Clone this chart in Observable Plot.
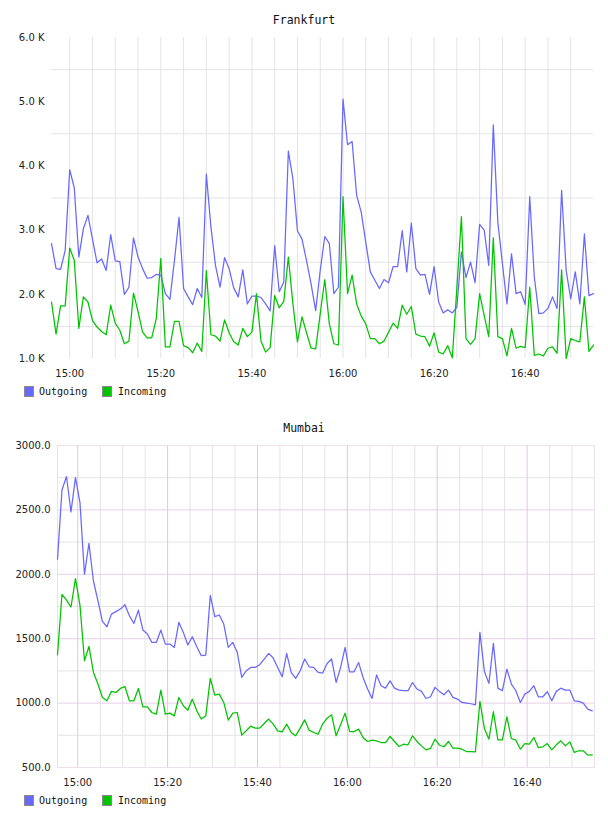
<!DOCTYPE html>
<html>
<head>
<meta charset="utf-8">
<script src="https://cdn.jsdelivr.net/npm/d3@7"></script>
<script src="https://cdn.jsdelivr.net/npm/@observablehq/plot@0.6"></script>
<style>
  html, body { margin: 0; padding: 0; background: #fff; }
  body { position: relative; width: 608px; height: 816px; overflow: hidden; }
  .title { position: absolute; left: 0; width: 608px; text-align: center;
           font: 11.5px/14px "DejaVu Sans Mono", monospace; color: #111; }
  .panel { position: absolute; left: 0; }
  .legend { position: absolute; left: 24px; width: 200px; height: 11px; font: 10px/11px "DejaVu Sans Mono", monospace; color: #111; }
  .legend .sw { position: absolute; top: 0; width: 8px; height: 9px; border: 1px solid #8a8a8a; }
  .legend .lb { position: absolute; top: 0; white-space: nowrap; }
</style>
</head>
<body>
<div class="title" style="top:13px">Frankfurt</div>
<div class="panel" id="fra" style="top:27px"></div>
<div class="legend" id="leg1" style="top:386px"></div>
<div class="title" style="top:421px">Mumbai</div>
<div class="panel" id="mum" style="top:436px"></div>
<div class="legend" id="leg2" style="top:795px"></div>
<script>
// Traffic per minute, Frankfurt (14:56 – 16:55)
const frankfurtOutgoing = [
  2790, 2400, 2390, 2680, 3940, 3660, 2580, 3020, 3230, 2860,
  2490, 2550, 2370, 2930, 2520, 2510, 2000, 2110, 2880, 2580,
  2400, 2250, 2260, 2310, 2300, 2010, 1920, 2530, 3200, 2090,
  1960, 1840, 2090, 1950, 3870, 3050, 2450, 2110, 2570, 2400,
  2100, 1960, 2380, 1850, 1970, 1970, 1950, 1850, 1740, 2760,
  2040, 2190, 4230, 3800, 2990, 2860, 2520, 2160, 1745, 2370,
  2900, 2790, 2010, 2110, 5040, 4330, 4380, 3540, 3280, 2810,
  2350, 2220, 2090, 2230, 2180, 2430, 2430, 2990, 2350, 3110,
  2400, 2300, 2310, 2000, 2430, 1880, 1710, 1760, 1710, 1800,
  2660, 2260, 2500, 2180, 3090, 3000, 2450, 4640, 3120, 2480,
  1850, 2630, 2010, 2040, 1840, 3520, 2270, 1700, 1710, 1780,
  1960, 1780, 3620, 2370, 1930, 2350, 1850, 2940, 1980, 2010
];
const frankfurtIncoming = [
  1880, 1380, 1820, 1820, 2720, 2530, 1470, 1960, 1880, 1590,
  1490, 1420, 1370, 1830, 1550, 1440, 1230, 1270, 2020, 1730,
  1410, 1320, 1320, 1620, 2560, 1180, 1180, 1580, 1580, 1200,
  1170, 1090, 1240, 1110, 2370, 1370, 1350, 1270, 1600, 1400,
  1260, 1210, 1470, 1340, 1410, 2010, 1270, 1100, 1170, 1980,
  1790, 1890, 2580, 1850, 1260, 1650, 1400, 1160, 1150, 1700,
  2230, 1540, 1230, 1210, 3520, 2010, 2300, 1850, 1660, 1540,
  1310, 1310, 1230, 1270, 1410, 1550, 1470, 1830, 1690, 1810,
  1380, 1350, 1340, 1190, 1400, 1100, 1070, 1200, 1010, 2100,
  3210, 1310, 1220, 1310, 2010, 1670, 1340, 2880, 1340, 1310,
  1040, 1470, 1160, 1190, 1170, 2110, 1050, 1070, 1040, 1160,
  1180, 1080, 2380, 1000, 1310, 1280, 1260, 1960, 1110, 1210
];

// Traffic per minute, Mumbai (14:55:30 – 16:54:30)
const mumbaiOutgoing = [
  2117, 2655, 2759, 2484, 2751, 2557, 2000, 2241, 1948, 1793,
  1634, 1593, 1691, 1710, 1730, 1764, 1678, 1619, 1722, 1567,
  1536, 1471, 1471, 1567, 1458, 1458, 1432, 1627, 1549, 1451,
  1515, 1438, 1368, 1373, 1837, 1671, 1684, 1614, 1432, 1471,
  1394, 1199, 1251, 1277, 1277, 1298, 1342, 1386, 1350, 1277,
  1204, 1386, 1238, 1192, 1251, 1342, 1282, 1277, 1238, 1233,
  1308, 1342, 1160, 1277, 1432, 1243, 1243, 1316, 1199, 1109,
  1036, 1220, 1135, 1116, 1173, 1116, 1101, 1096, 1096, 1160,
  1109, 1091, 1036, 1049, 1122, 1091, 1065, 1101, 1044, 1031,
  1005, 1000, 995, 987, 1549, 1246, 1153, 1464, 1116, 1096,
  1264, 1148, 1096, 1005, 1070, 1091, 1135, 1049, 1049, 1088,
  1018, 1091, 1116, 1101, 1101, 1018, 1013, 1000, 953, 940
];
const mumbaiIncoming = [
  1375, 1845, 1800, 1746, 1966, 1760, 1329, 1440, 1238, 1148,
  1044, 1018, 1091, 1083, 1114, 1129, 1018, 1018, 1114, 971,
  971, 927, 914, 1101, 914, 922, 901, 1044, 979, 945,
  1031, 940, 876, 901, 1192, 1062, 1070, 1005, 868, 922,
  927, 751, 785, 821, 806, 806, 842, 876, 837, 785,
  777, 837, 772, 746, 806, 870, 790, 772, 759, 837,
  883, 909, 746, 832, 922, 780, 777, 798, 733, 702,
  712, 707, 694, 694, 741, 702, 663, 681, 676, 746,
  702, 668, 637, 648, 720, 673, 661, 702, 650, 650,
  642, 624, 624, 622, 1013, 803, 720, 933, 715, 715,
  894, 725, 712, 642, 686, 681, 733, 655, 661, 686,
  637, 676, 707, 668, 699, 617, 630, 630, 596, 598
];

const seriesNames = ["Outgoing", "Incoming"];
const seriesColors = ["#6868ff", "#00c400"];

const frankfurtYTicks = [1000, 2000, 3000, 4000, 5000, 6000];
const frankfurtYGrid = [1500, 2500, 3500, 4500, 5500];
const mumbaiYTicks = [500, 1000, 1500, 2000, 2500, 3000];
const mumbaiYMinor = [750, 1250, 1750, 2250, 2750];

const day = (h, m, s = 0) => new Date(Date.UTC(2024, 0, 1, h, m, s));
const frankfurtStart = day(14, 56);
const mumbaiStart = day(14, 55, 30);

function table(start, outgoing, incoming) {
  const rows = [];
  outgoing.forEach((v, i) => rows.push({time: new Date(+start + i * 60000), value: v, series: "Outgoing"}));
  incoming.forEach((v, i) => rows.push({time: new Date(+start + i * 60000), value: v, series: "Incoming"}));
  return rows;
}

const fmtTime = d3.utcFormat("%H:%M");
const baseStyle = {fontFamily: "'DejaVu Sans', sans-serif", fontSize: "10px", color: "#222", background: "#fff", overflow: "visible"};

function panel({rows, xDomain, yDomain, yTicks, yFormat, marginLeft, marginRight, marginTop, marginBottom, height, gridMarks, frame}) {
  const five = d3.utcMinute.every(5).range(xDomain[0], xDomain[1]);
  const twenty = five.filter(d => d.getUTCMinutes() % 20 === 0);
  return Plot.plot({
    width: 608,
    height,
    marginLeft, marginRight, marginTop, marginBottom,
    style: baseStyle,
    x: {type: "utc", domain: xDomain, label: null},
    y: {domain: yDomain, label: null},
    color: {domain: seriesNames, range: seriesColors},
    marks: [
      ...gridMarks(five, twenty),
      ...(frame ? [Plot.frame({stroke: frame})] : []),
      Plot.axisY({ticks: yTicks, tickFormat: yFormat, tickSize: 0, tickPadding: 7, fill: "#222", label: null}),
      Plot.axisX({ticks: twenty, tickFormat: fmtTime, tickSize: 0, tickPadding: 11, fill: "#222", label: null}),
      Plot.lineY(rows, {x: "time", y: "value", stroke: "series", strokeWidth: 1.25, z: "series"})
    ]
  });
}

const fra = panel({
  rows: table(frankfurtStart, frankfurtOutgoing, frankfurtIncoming),
  xDomain: [frankfurtStart, new Date(+frankfurtStart + (frankfurtOutgoing.length - 1) * 60000)],
  yDomain: [1000, 6000],
  yTicks: frankfurtYTicks,
  yFormat: v => (v / 1000).toFixed(1) + " K",
  marginLeft: 51, marginRight: 15, marginTop: 10, marginBottom: 26, height: 357,
  gridMarks: (five) => [
    Plot.gridX(five, {stroke: "#e4e4e4", strokeOpacity: 1}),
    Plot.gridY(frankfurtYGrid, {stroke: "#e4e4e4", strokeOpacity: 1})
  ]
});
document.getElementById("fra").appendChild(fra);

const mum = panel({
  rows: table(mumbaiStart, mumbaiOutgoing, mumbaiIncoming),
  xDomain: [mumbaiStart, day(16, 55)],
  yDomain: [500, 3000],
  yTicks: mumbaiYTicks,
  yFormat: v => v.toFixed(1),
  marginLeft: 57, marginRight: 14, marginTop: 9, marginBottom: 25, height: 356,
  gridMarks: (five, twenty) => [
    Plot.gridX(five.filter(d => d.getUTCMinutes() % 20 !== 0), {stroke: "#e4e4e4", strokeOpacity: 1}),
    Plot.gridY(mumbaiYMinor, {stroke: "#e4e4e4", strokeOpacity: 1}),
    Plot.gridX(twenty, {stroke: "#e0c6e0", strokeOpacity: 1}),
    Plot.gridY(mumbaiYTicks.slice(1, -1), {stroke: "#e6cfe6", strokeOpacity: 1})
  ],
  frame: "#eedfee"
});
document.getElementById("mum").appendChild(mum);

// Legends
function legend(el) {
  const xs = [[0, 15], [78, 94]];
  seriesNames.forEach((name, i) => {
    const sw = document.createElement("div");
    sw.className = "sw";
    sw.style.left = xs[i][0] + "px";
    sw.style.background = seriesColors[i];
    const lb = document.createElement("div");
    lb.className = "lb";
    lb.style.left = xs[i][1] + "px";
    lb.textContent = name;
    el.appendChild(sw);
    el.appendChild(lb);
  });
}
legend(document.getElementById("leg1"));
legend(document.getElementById("leg2"));
</script>
</body>
</html>
